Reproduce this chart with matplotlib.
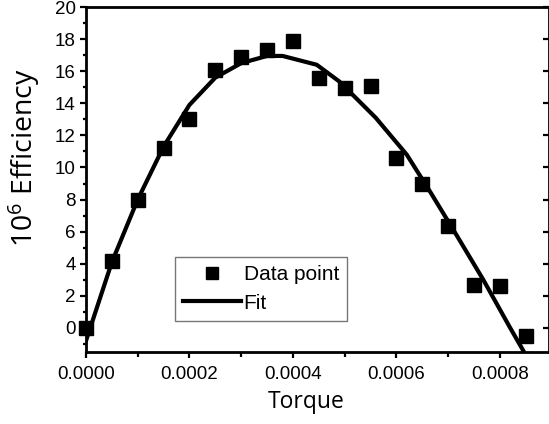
import matplotlib
matplotlib.use("Agg")
from matplotlib import pyplot as plt
from matplotlib.ticker import MultipleLocator

# measured points
torque = [0.0, 0.00005, 0.0001, 0.00015, 0.0002, 0.00025, 0.0003, 0.00035, 0.0004,
          0.00045, 0.0005, 0.00055, 0.0006, 0.00065, 0.0007, 0.00075, 0.0008, 0.00085]
efficiency = [0.0, 4.2, 8.0, 11.2, 13.0, 16.1, 16.9, 17.35, 17.9,
              15.6, 14.95, 15.1, 10.6, 9.0, 6.35, 2.65, 2.6, -0.5]

# fit curve
fit_torque = [0.0, 0.00005, 0.0001, 0.00015, 0.0002, 0.00025, 0.0003, 0.00035, 0.00038,
              0.000446, 0.00049, 0.00056, 0.00062, 0.000665, 0.000716, 0.000768,
              0.00082, 0.000845]
fit_eff = [-0.8, 4.1, 8.0, 11.3, 13.9, 15.6, 16.5, 16.95, 16.95,
           16.4, 15.35, 13.1, 10.8, 8.5, 5.8, 3.0, 0.0, -1.4]

TICK_FONT = "Liberation Sans"
LABEL_FONT = "Open Sans"


def main():
    fig = plt.figure(figsize=(5.49, 4.24), dpi=100)
    ax = fig.add_axes([86 / 549, 72 / 424, 463 / 549, 345 / 424])

    ax.plot(fit_torque, fit_eff, '-', color='black', lw=3, label='Fit', zorder=2)
    ax.plot(torque, efficiency, 's', color='black', ms=10.5, label='Data point',
            zorder=3, clip_on=False)

    ax.set_xlim(0, 0.000895)
    ax.set_ylim(-1.5, 20)
    ax.xaxis.set_major_locator(MultipleLocator(0.0002))
    ax.xaxis.set_minor_locator(MultipleLocator(0.0001))
    ax.yaxis.set_major_locator(MultipleLocator(2))
    ax.yaxis.set_minor_locator(MultipleLocator(1))
    ax.xaxis.set_major_formatter(plt.FuncFormatter(lambda v, p: "%.4f" % v))

    for s in ax.spines.values():
        s.set_linewidth(2)

    ax.tick_params(which='both', direction='out', top=False, right=False, width=1.6)
    ax.tick_params(axis='y', which='major', length=4.5, pad=3)
    ax.tick_params(axis='y', which='minor', length=2.5)
    ax.tick_params(axis='x', which='major', length=4.5, pad=5.5)
    ax.tick_params(axis='x', which='minor', length=3.5)
    for lab in ax.get_xticklabels() + ax.get_yticklabels():
        lab.set_fontfamily(TICK_FONT)
        lab.set_fontsize(13.5)

    # inward major ticks on the right spine
    ax2 = ax.twinx()
    ax2.set_ylim(ax.get_ylim())
    ax2.yaxis.set_major_locator(MultipleLocator(2))
    ax2.tick_params(axis='y', which='major', direction='in', length=4.5, width=1.6,
                    labelright=False)
    ax2.tick_params(axis='y', which='minor', right=False)
    for s in ax2.spines.values():
        s.set_visible(False)

    ax.set_xlabel('Torque', fontfamily=LABEL_FONT, fontsize=16.5, va='center')
    ax.xaxis.set_label_coords(0.475, -0.144)
    ax.set_ylabel(r'$\mathregular{10^6}$ Efficiency', fontfamily=LABEL_FONT,
                  fontsize=20.5, va='center')
    ax.yaxis.set_label_coords(-0.134, 0.564)

    handles, labels = ax.get_legend_handles_labels()
    leg = ax.legend(handles[::-1], labels[::-1], loc='lower left',
                    bbox_to_anchor=(0.192, 0.09), borderaxespad=0,
                    prop={'family': TICK_FONT, 'size': 15}, frameon=True,
                    fancybox=False, edgecolor='#555555', handlelength=2.75,
                    handletextpad=0.15, labelspacing=0.45, borderpad=0.4,
                    markerscale=0.85)
    leg.get_frame().set_linewidth(1)

    fig.savefig('out.png', dpi=100)


if __name__ == '__main__':
    main()
